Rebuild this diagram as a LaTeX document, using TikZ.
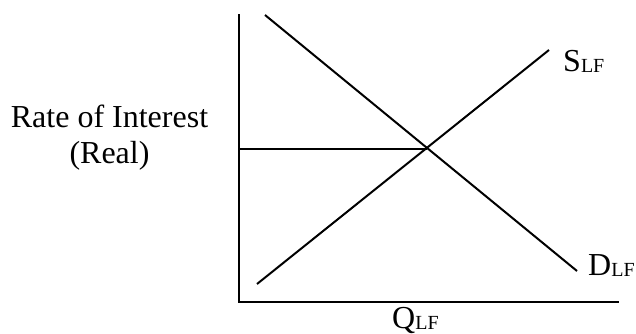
\documentclass[tikz,border=0pt]{standalone}
\usepackage{fontspec}
\setmainfont{Liberation Serif}
\newcommand{\bigtxt}{\fontsize{32}{38}\selectfont}
\newcommand{\subtxt}[1]{\raisebox{-1pt}{\fontsize{20}{24}\selectfont #1}}
\begin{document}
\begin{tikzpicture}[x=1pt,y=-1pt,
  axis/.style={line width=2.2pt,line cap=rect},
  curve/.style={line width=2pt},
  lbl/.style={inner sep=0pt,anchor=base west,font=\bigtxt},
  ylbl/.style={inner sep=0pt,anchor=base,font=\bigtxt}]
\useasboundingbox (0,0) rectangle (636,334);
\coordinate (top) at (239,15);
\coordinate (origin) at (239,302);
\coordinate (xend) at (618,302);
\coordinate (dstart) at (265,15);
\coordinate (dend) at (577,271);
\coordinate (sstart) at (257,284);
\coordinate (send) at (549,50);
\coordinate (eqy) at (239,148.5);
\coordinate (eq) at (427,148.5);
\draw[axis] (top) -- (origin) -- (xend);
\draw[curve] (dstart) -- (dend);
\draw[curve] (sstart) -- (send);
\draw[curve] (eqy) -- (eq);
\node[lbl] (slbl) at (563,72) {S\subtxt{LF}};
\node[lbl] (dlbl) at (588,275) {D\subtxt{LF}};
\node[lbl] (qlbl) at (392,328) {Q\subtxt{LF}};
\node[ylbl] (rate) at (109.5,128) {Rate of Interest};
\node[ylbl] (real) at (109.5,163) {(Real)};
\end{tikzpicture}
\end{document}
